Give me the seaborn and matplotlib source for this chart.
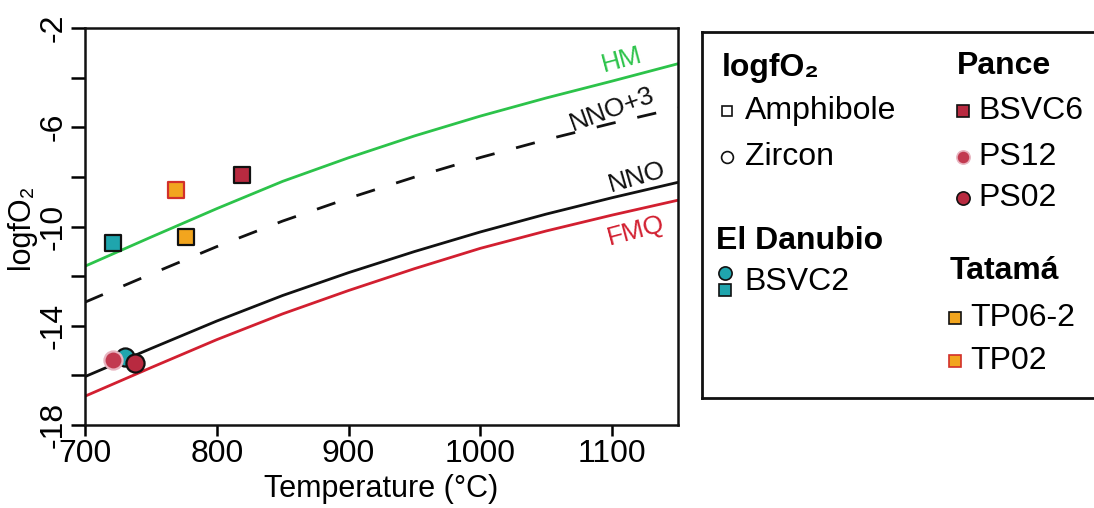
import numpy as np
import pandas as pd
import matplotlib
matplotlib.use('Agg')
import matplotlib.pyplot as plt
import seaborn as sns

sns.set_theme(style='ticks', rc={'text.color': 'black', 'axes.labelcolor': 'black',
                                 'xtick.color': 'black', 'ytick.color': 'black'})
plt.rcParams['font.family'] = ['Liberation Sans', 'DejaVu Sans']
plt.rcParams['axes.unicode_minus'] = False

# buffer curves (T in °C, logfO2)
temp = [700, 750, 800, 850, 900, 950, 1000, 1050, 1100, 1150]
hm = [-11.6, -10.43, -9.28, -8.18, -7.23, -6.35, -5.55, -4.82, -4.14, -3.44]
nno3 = [-13.05, -11.92, -10.81, -9.78, -8.86, -8.01, -7.22, -6.5, -5.84, -5.22]
nno = [-16.05, -14.92, -13.81, -12.78, -11.86, -11.01, -10.22, -9.5, -8.84, -8.22]
fmq = [-16.84, -15.69, -14.56, -13.52, -12.58, -11.7, -10.88, -10.18, -9.54, -8.94]

# samples
sample_names = ['BSVC2', 'BSVC2', 'PS12', 'PS02', 'BSVC6', 'TP06-2', 'TP02']
minerals = ['Amphibole', 'Zircon', 'Zircon', 'Zircon', 'Amphibole', 'Amphibole', 'Amphibole']
sample_T = [721, 730, 721, 738, 819, 777, 769]
sample_fo2 = [-10.68, -15.24, -15.4, -15.52, -7.92, -10.44, -8.52]

face = {'BSVC2': '#1fa5ad', 'PS12': '#c23a50', 'PS02': '#b82a40',
        'BSVC6': '#b82a40', 'TP06-2': '#f2a51e', 'TP02': '#f2a51e'}
edge = {'BSVC2': '#111111', 'PS12': '#e8b4c0', 'PS02': '#111111',
        'BSVC6': '#111111', 'TP06-2': '#111111', 'TP02': '#d2302a'}

buf_colors = {'HM': '#2cc34a', 'NNO+3': '#111111', 'NNO': '#111111', 'FMQ': '#d21f30'}

buffers = pd.DataFrame({
    'T': temp * 4,
    'logfO2': hm + nno3 + nno + fmq,
    'buffer': ['HM'] * len(temp) + ['NNO+3'] * len(temp) + ['NNO'] * len(temp) + ['FMQ'] * len(temp),
})
samples = pd.DataFrame({'sample': sample_names, 'mineral': minerals,
                        'T': sample_T, 'logfO2': sample_fo2})

W, H = 1094, 508
fig = plt.figure(figsize=(W / 100, H / 100), dpi=100)
ax = fig.add_axes([85 / W, 1 - 425 / H, (678 - 85) / W, (425 - 28) / H])

sns.lineplot(data=buffers, x='T', y='logfO2', hue='buffer', style='buffer',
             palette=buf_colors,
             dashes={'HM': '', 'NNO+3': (7, 8), 'NNO': '', 'FMQ': ''},
             linewidth=2, legend=False, ax=ax)

for i, row in samples.iterrows():
    mk = 's' if row['mineral'] == 'Amphibole' else 'o'
    sz = 130 if mk == 's' else 170
    sns.scatterplot(x=[row['T']], y=[row['logfO2']], marker=mk, s=sz,
                    color=face[row['sample']], edgecolor=edge[row['sample']],
                    linewidth=1.6, ax=ax, zorder=3 + i, legend=False)

# buffer labels
lab_kw = dict(fontsize=19, ha='center', va='center')
ax.text(1107, -3.28, 'HM', color=buf_colors['HM'], rotation=15, **lab_kw)
ax.text(1100, -5.28, 'NNO+3', color='#111111', rotation=20, **lab_kw)
ax.text(1119, -8.0, 'NNO', color='#111111', rotation=16, **lab_kw)
ax.text(1118, -10.16, 'FMQ', color=buf_colors['FMQ'], rotation=15, **lab_kw)

ax.set_xlim(700, 1150)
ax.set_ylim(-18, -2)
ax.set_xticks([700, 800, 900, 1000, 1100])
yt = np.arange(-18, -1, 2)
ax.set_yticks(yt)
ax.set_yticklabels([str(v) if v % 4 == 2 else '' for v in yt])
ax.tick_params(axis='y', labelrotation=90, length=10, width=1.8, labelsize=23, pad=2)
ax.tick_params(axis='x', length=8, width=1.8, labelsize=23, pad=2)
for lbl in ax.get_yticklabels():
    lbl.set_va('center')
for sp in ax.spines.values():
    sp.set_linewidth(1.8)
    sp.set_color('#111111')
ax.set_xlabel('Temperature (°C)', fontsize=22, labelpad=4)
ax.set_ylabel('logfO₂', fontsize=22, labelpad=2)

# legend panel (pixel coordinates)
lax = fig.add_axes([702 / W, 1 - 398 / H, (1120 - 702) / W, (398 - 32) / H])
lax.set_xlim(702, 1120)
lax.set_ylim(398, 32)
lax.set_xticks([])
lax.set_yticks([])
lax.set_facecolor('white')
for sp in lax.spines.values():
    sp.set_linewidth(2)
    sp.set_color('#111111')

fs = 23
def head(x, y, s):
    lax.text(x, y, s, fontsize=fs, fontweight='bold', ha='left', va='center')

def entry(x, y, s, mk, fc, ec, ms, tx):
    lax.plot([x], [y], marker=mk, markersize=ms, markerfacecolor=fc,
             markeredgecolor=ec, markeredgewidth=1.2, linestyle='none')
    lax.text(tx, y, s, fontsize=fs, ha='left', va='center')

head(722, 68, 'logfO₂')
entry(727, 111, 'Amphibole', 's', 'white', '#111111', 7.5, 745)
entry(727, 157, 'Zircon', 'o', 'white', '#111111', 8.5, 745)
head(716, 241, 'El Danubio')
lax.plot([725], [273], marker='o', markersize=9.5, markerfacecolor=face['BSVC2'],
         markeredgecolor='#111111', markeredgewidth=1.2, linestyle='none')
lax.plot([725], [290], marker='s', markersize=8.5, markerfacecolor=face['BSVC2'],
         markeredgecolor='#111111', markeredgewidth=1.2, linestyle='none')
lax.text(744, 282, 'BSVC2', fontsize=fs, ha='left', va='center')

head(957, 66, 'Pance')
entry(963, 111, 'BSVC6', 's', face['BSVC6'], '#111111', 8.5, 978)
entry(963, 157, 'PS12', 'o', face['PS12'], edge['PS12'], 9.5, 978)
entry(963, 198, 'PS02', 'o', face['PS02'], '#111111', 9.5, 978)
head(950, 271, 'Tatamá')
entry(955, 318, 'TP06-2', 's', face['TP06-2'], '#111111', 8.5, 970)
entry(955, 361, 'TP02', 's', face['TP02'], edge['TP02'], 8.5, 970)

fig.savefig('out.png', dpi=100)
